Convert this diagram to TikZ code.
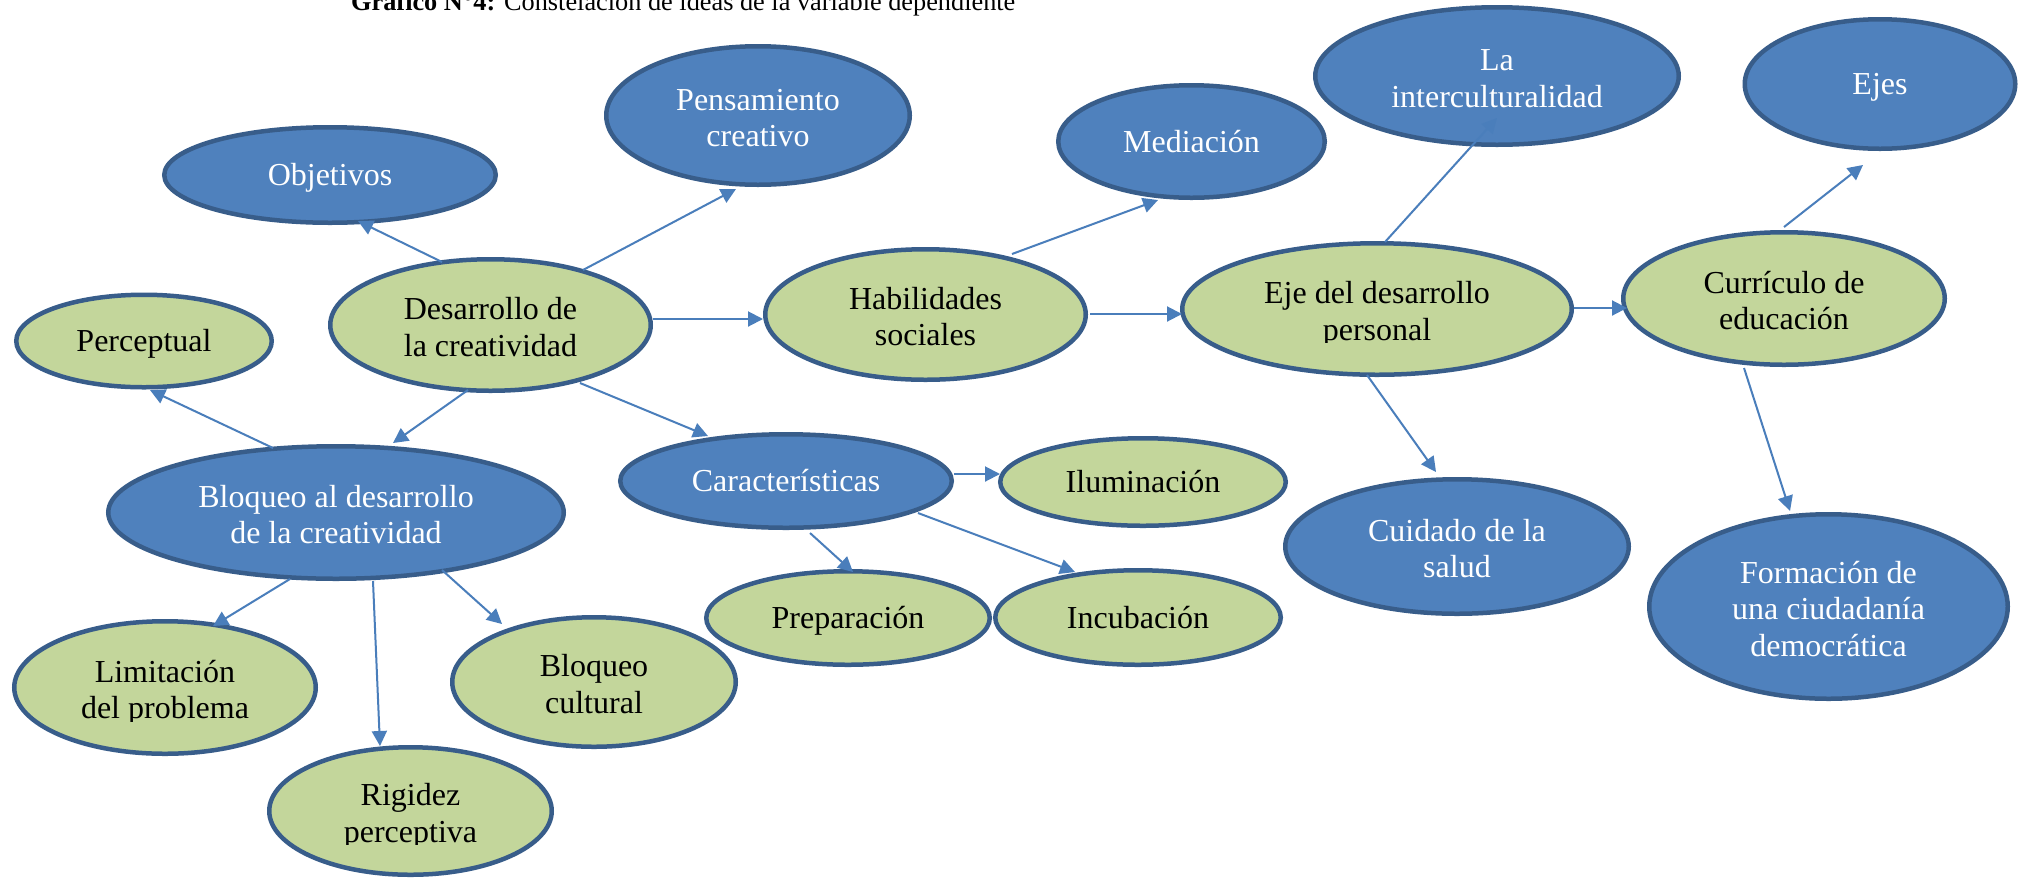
\documentclass[tikz,border=0pt]{standalone}
\usepackage{fontspec}
\setmainfont{Liberation Serif}
\usetikzlibrary{arrows.meta,calc,shapes.geometric}
\definecolor{bfill}{HTML}{4F81BD}
\definecolor{bline}{HTML}{385D8A}
\definecolor{gfill}{HTML}{C3D69B}
\definecolor{arr}{HTML}{4A7EBB}
\newcommand\ta{\rule{0pt}{33.5pt}}
\newcommand\tc{\rule{0pt}{28.5pt}}
\newcommand\tb{\rule[-7.5pt]{0pt}{7.5pt}}
\tikzset{
  bub/.style={ellipse, line width=4.5pt, draw=bline, inner sep=0pt, outer sep=0pt,
    align=center, font=\fontsize{32}{36.5}\selectfont},
  bluebub/.style={bub, fill=bfill, text=white},
  greenbub/.style={bub, fill=gfill, text=black},
  plaintext/.style={inner sep=0pt, align=center, text=black, font=\fontsize{32}{36.5}\selectfont},
  conn/.style={draw=arr, line width=2pt, -{Triangle[length=15pt,width=15pt]}},
  sz/.style 2 args={minimum width=#1pt, minimum height=#2pt}
}
\begin{document}
\begin{tikzpicture}[x=1pt,y=-1pt]
\fill[white] (0,0) rectangle (2025,879);
\useasboundingbox (0,0) rectangle (2025,879);
% title
\node[anchor=base west, inner sep=0pt, font=\fontsize{26.3}{30}\selectfont] (title) at (351,10.5)
  {\textbf{Gráfico N°4:} Constelación de ideas de la variable dependiente};
% nodes
\node[bluebub, sz={331.5}{95.5}] (obj) at (330,175) {\tc Objetivos\tb};
\node[bluebub, sz={303.5}{138.5}] (pen) at (758,115.5) {\ta Pensamiento\\creativo\tb};
\node[bluebub, sz={266.5}{112.5}] (med) at (1191.5,141.5) {\tc Mediación\tb};
\node[bluebub, sz={363.5}{137.5}] (int) at (1497,76) {\ta La\\interculturalidad\tb};
\node[bluebub, sz={270.5}{129.5}] (ejes) at (1880,84) {\tc Ejes\tb};
\node[greenbub, sz={255.5}{92.5}] (per) at (144,341) {\tc Perceptual\tb};
\node[greenbub, sz={320.5}{131.5}] (des) at (490.5,325) {\ta Desarrollo de\\la creatividad\tb};
\node[greenbub, sz={320.5}{130.5}] (hab) at (925.5,314.5) {\ta Habilidades\\sociales\tb};
\node[greenbub, sz={389.5}{131.5}] (eje) at (1377,309) {};
\node[greenbub, sz={321.5}{132.5}] (cur) at (1784,298.5) {\ta Currículo de\\educación\tb};
\node[bluebub, sz={455.5}{132.5}] (blo) at (336,512.5) {\ta Bloqueo al desarrollo\\de la creatividad\tb};
\node[bluebub, sz={331.5}{93.5}] (car) at (786,481) {\tc Características\tb};
\node[greenbub, sz={285.5}{87.5}] (ilu) at (1143,482) {\tc Iluminación\tb};
\node[bluebub, sz={343.5}{134.5}] (cui) at (1457,546.5) {\ta Cuidado de la\\salud\tb};
\node[bluebub, sz={358.5}{184.5}] (for) at (1828.5,606.5) {\ta Formación de\\una ciudadanía\\democrática\tb};
\node[greenbub, sz={283.5}{93.5}] (pre) at (848,618) {\tc Preparación\tb};
\node[greenbub, sz={285.5}{94.5}] (inc) at (1138,617.5) {\tc Incubación\tb};
\node[greenbub, sz={301.5}{132.5}] (lim) at (165,687.5) {};
\node[greenbub, sz={283.5}{129.5}] (bcu) at (594,682) {\ta Bloqueo\\cultural\tb};
\node[greenbub, sz={282.5}{127.5}] (rig) at (410.5,811) {};
% texts whose last line is cut at the baseline
\begin{scope}
  \clip ($(eje.center)+(-190,-60)$) rectangle ($(eje.center)+(190,33.5)$);
  \node[plaintext] (ejetext) at (eje.center) {\ta Eje del desarrollo\\personal\tb};
\end{scope}
\begin{scope}
  \clip ($(lim.center)+(-150,-60)$) rectangle ($(lim.center)+(150,33.5)$);
  \node[plaintext] (limtext) at (lim.center) {\ta Limitación\\del problema\tb};
\end{scope}
\begin{scope}
  \clip ($(rig.center)+(-140,-60)$) rectangle ($(rig.center)+(140,33.5)$);
  \node[plaintext] (rigtext) at (rig.center) {\ta Rigidez\\perceptiva\tb};
\end{scope}
% connectors
\draw[conn] ($(des.center)+(-48.5,-63)$) -- ($(obj.center)+(28,46)$);
\draw[conn] ($(des.center)+(92.5,-55)$) -- ($(pen.center)+(-22,73.5)$);
\draw[conn] ($(des.center)+(162.5,-6)$) -- ($(hab.center)+(-162.5,4.5)$);
\draw[conn] ($(hab.center)+(86.5,-60.5)$) -- ($(med.center)+(-33.5,58.5)$);
\draw[conn] ($(hab.center)+(164.5,-0.5)$) -- ($(eje.center)+(-195,5)$);
\draw[conn] ($(eje.center)+(8,-67)$) -- ($(int.center)+(0,42)$);
\draw[conn] ($(eje.center)+(197,-1)$) -- ($(cur.center)+(-157,9.5)$);
\draw[conn] ($(cur.center)+(0,-71.5)$) -- ($(ejes.center)+(-17,81)$);
\draw[conn] ($(cur.center)+(-40,69.5)$) -- ($(for.center)+(-38.5,-95.5)$);
\draw[conn] ($(eje.center)+(-10,66)$) -- ($(cui.center)+(-21,-74.5)$);
\draw[conn] ($(des.center)+(89.5,58)$) -- ($(car.center)+(-78,-45)$);
\draw[conn] ($(des.center)+(-22.5,65)$) -- ($(blo.center)+(57,-69.5)$);
\draw[conn] ($(blo.center)+(-63,-64.5)$) -- ($(per.center)+(6,49)$);
\draw[conn] ($(blo.center)+(-46,66.5)$) -- ($(lim.center)+(48,-61.5)$);
\draw[conn] ($(blo.center)+(37,68.5)$) -- ($(rig.center)+(-30.5,-65)$);
\draw[conn] ($(blo.center)+(106,57.5)$) -- ($(bcu.center)+(-92,-58)$);
\draw[conn] ($(car.center)+(168,-7)$) -- ($(ilu.center)+(-143,-8)$);
\draw[conn] ($(car.center)+(24,52)$) -- ($(pre.center)+(5,-46)$);
\draw[conn] ($(car.center)+(132,32)$) -- ($(inc.center)+(-63,-45.5)$);
\end{tikzpicture}
\end{document}
